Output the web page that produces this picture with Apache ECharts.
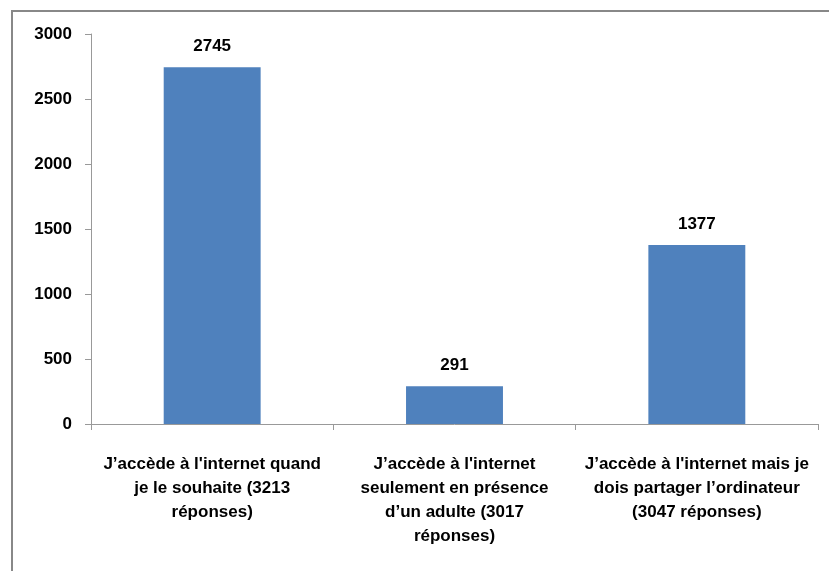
<!DOCTYPE html>
<html>
<head>
<meta charset="utf-8">
<script src="https://cdn.jsdelivr.net/npm/echarts@6/dist/echarts.min.js"></script>
<style>
html, body { margin: 0; padding: 0; background: #fff; }
#main { width: 829px; height: 571px; }
</style>
</head>
<body>
<div id="main"></div>
<script>
// données
var categories = [
    "J\u2019accède à l'internet quand\nje le souhaite (3213\nréponses)",
    "J\u2019accède à l'internet\nseulement en présence\nd\u2019un adulte (3017\nréponses)",
    "J\u2019accède à l'internet mais je\ndois partager l\u2019ordinateur\n(3047 réponses)"
];
var values = [2745, 291, 1377];
var yTicks = [0, 500, 1000, 1500, 2000, 2500, 3000];

var font = '"Liberation Sans", Arial, sans-serif';

var chart = echarts.init(document.getElementById('main'));
var option = {
    animation: false,
    textStyle: { fontFamily: font },
    graphic: [{
        type: 'rect',
        shape: { x: 12, y: 11, width: 900, height: 700 },
        style: { fill: 'none', stroke: '#888', lineWidth: 2 },
        silent: true
    }],
    grid: {
        left: 91,
        top: 34,
        right: 11,
        bottom: 147
    },
    xAxis: {
        type: 'category',
        data: categories,
        axisLine: { show: true, lineStyle: { color: '#999', width: 1 } },
        axisTick: { show: true, length: 6, lineStyle: { color: '#999' } },
        axisLabel: {
            interval: 0,
            margin: 28,
            color: '#000',
            fontWeight: 'bold',
            fontSize: 17,
            lineHeight: 24,
            fontFamily: font
        }
    },
    yAxis: {
        type: 'value',
        min: yTicks[0],
        max: yTicks[yTicks.length - 1],
        interval: 500,
        splitLine: { show: false },
        axisLine: { show: true, lineStyle: { color: '#999', width: 1 } },
        axisTick: { show: true, length: 6, lineStyle: { color: '#999' } },
        axisLabel: {
            margin: 19,
            color: '#000',
            fontWeight: 'bold',
            fontSize: 17,
            fontFamily: font,
            formatter: function (v) { return String(v); }
        }
    },
    series: [{
        type: 'bar',
        data: values,
        barWidth: '40%',
        itemStyle: { color: '#4F81BD' },
        label: {
            show: true,
            position: 'top',
            distance: 12,
            color: '#000',
            fontWeight: 'bold',
            fontSize: 17,
            fontFamily: font
        }
    }]
};
chart.setOption(option);

window.onresize = function () {
    chart.resize();
};
</script>
</body>
</html>
